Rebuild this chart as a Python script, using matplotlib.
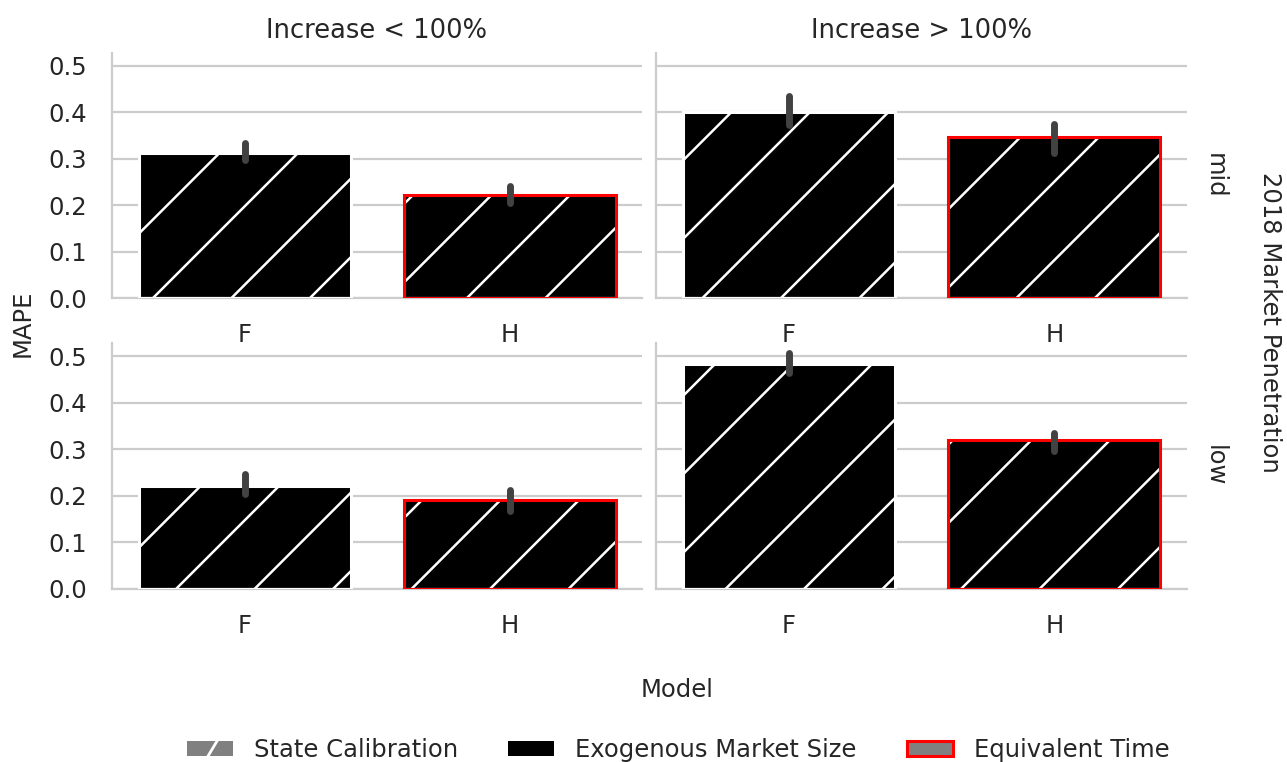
import numpy as np
import matplotlib
matplotlib.use("Agg")
import matplotlib.pyplot as plt
from matplotlib.patches import Rectangle, Patch
from matplotlib.lines import Line2D
from matplotlib.transforms import IdentityTransform
from matplotlib.legend_handler import HandlerPatch

# ---- data -------------------------------------------------------------
rows = ["mid", "low"]
cols = ["Increase < 100%", "Increase > 100%"]
models = ["F", "H"]

# mean MAPE per [row][col][model]
mape_mid = [[0.313, 0.223], [0.401, 0.347]]
mape_low = [[0.221, 0.192], [0.482, 0.319]]
# confidence interval bounds
ci_lo_mid = [[0.297, 0.205], [0.373, 0.313]]
ci_hi_mid = [[0.334, 0.241], [0.435, 0.376]]
ci_lo_low = [[0.203, 0.168], [0.464, 0.297]]
ci_hi_low = [[0.246, 0.213], [0.507, 0.335]]

yticks = [0.0, 0.1, 0.2, 0.3, 0.4, 0.5]
legend_labels = ["State Calibration", "Exogenous Market Size", "Equivalent Time"]

mape = {"mid": mape_mid, "low": mape_low}
ci_lo = {"mid": ci_lo_mid, "low": ci_lo_low}
ci_hi = {"mid": ci_hi_mid, "low": ci_hi_low}

# ---- style ------------------------------------------------------------
W, H, DPI = 1287, 762, 100
TXT = "#262626"
GRID = "#cccccc"
ERR = "#424242"
FS = 17.5
HATCH_STEP = 78.5   # pixel spacing of the diagonal hatch
HATCH_OFF = 3.0

plt.rcParams["font.family"] = ["DejaVu Sans"]
fig = plt.figure(figsize=(W / DPI, H / DPI), dpi=DPI)

col_x = [(112, 530), (656, 531)]
row_y = [(53, 298), (343, 589)]


def add_hatch(ax, patch):
    """Draw white 45-degree lines clipped to a bar."""
    bb = patch.get_window_extent()
    x0, y0, x1, y1 = bb.x0, bb.y0, bb.x1, bb.y1
    cmin, cmax = x0 - y1, x1 - y0
    k0 = np.floor((cmin - HATCH_OFF) / HATCH_STEP)
    k1 = np.ceil((cmax - HATCH_OFF) / HATCH_STEP)
    for k in np.arange(k0, k1 + 1):
        c = HATCH_OFF + k * HATCH_STEP
        ln = Line2D([x0 - 5, x1 + 5], [x0 - 5 - c, x1 + 5 - c],
                    color="white", lw=1.8, transform=IdentityTransform(),
                    zorder=2.5)
        ax.add_line(ln)
        ln.set_clip_path(patch)


axes = {}
for ri, row in enumerate(rows):
    for ci, col in enumerate(cols):
        xl, xw = col_x[ci]
        yt, yb = row_y[ri]
        ax = fig.add_axes([xl / W, (H - yb) / H, xw / W, (yb - yt) / H])
        axes[(ri, ci)] = ax
        ax.set_xlim(-0.5, 1.5)
        ax.set_ylim(0, 0.528)
        ax.set_axisbelow(True)
        ax.yaxis.grid(True, color=GRID, lw=1.6)
        for s in ["top", "right"]:
            ax.spines[s].set_visible(False)
        for s in ["left", "bottom"]:
            ax.spines[s].set_color(GRID)
            ax.spines[s].set_linewidth(1.6)
        ax.set_yticks(yticks)
        ax.set_xticks(range(len(models)))
        ax.set_xticklabels(models)
        ax.tick_params(axis="both", length=0, pad=18, labelsize=FS,
                       labelcolor=TXT)
        if ci == 0:
            ax.set_yticklabels([f"{t:.1f}" for t in yticks])
        else:
            ax.set_yticklabels([])
        if ri == 0:
            ax.set_title(col, fontsize=18.5, color=TXT, pad=11)
        if ci == 1:
            ax.text(1 + 16 / xw, 0.5, row, rotation=-90, ha="left",
                    va="center", transform=ax.transAxes, fontsize=FS,
                    color=TXT)

        vals = mape[row][ci]
        x = np.arange(len(models))
        faces = ax.bar(x, vals, width=0.8, color="black", edgecolor="none",
                       zorder=2)
        # outlines: white for F, red for H
        ax.bar(x, vals, width=0.8, fill=False,
               edgecolor=["white", "red"], linewidth=[2.2, 2.2], zorder=3)
        axes[(ri, ci)]._faces = faces
        for xi, lo, hi in zip(x, ci_lo[row][ci], ci_hi[row][ci]):
            ax.plot([xi, xi], [lo, hi], color=ERR, lw=5,
                    solid_capstyle="round", zorder=4)

# hatching needs final pixel positions of the bars
fig.canvas.draw()
for key, ax in axes.items():
    for p in ax._faces:
        add_hatch(ax, p)

fig.text(23 / W, 1 - 323 / H, "MAPE", rotation=90, ha="center", va="center",
         fontsize=FS, color=TXT)
fig.text(677 / W, 1 - 690 / H, "Model", ha="center", va="center",
         fontsize=FS, color=TXT)
fig.text(1270 / W, 1 - 322 / H, "2018 Market Penetration", rotation=-90,
         ha="center", va="center", fontsize=FS, color=TXT)


class SlashHandler(HandlerPatch):
    def create_artists(self, legend, orig_handle, xdescent, ydescent,
                       width, height, fontsize, trans):
        rect = Rectangle((-xdescent, -ydescent), width, height,
                         facecolor="#808080", edgecolor="none",
                         transform=trans)
        ln = Line2D([-xdescent + 0.46 * width, -xdescent + 0.66 * width],
                    [-ydescent, -ydescent + height], color="white", lw=2,
                    transform=trans)
        return [rect, ln]


h_state = Patch(facecolor="#808080")
h_exo = Patch(facecolor="black", edgecolor="none")
h_eq = Patch(facecolor="#808080", edgecolor="red", linewidth=2.2)
fig.legend([h_state, h_exo, h_eq], legend_labels, ncol=3, frameon=False,
           loc="center", bbox_to_anchor=(678 / W, 1 - 750 / H),
           fontsize=FS, labelcolor=TXT, handlelength=1.9, handleheight=0.6,
           handletextpad=0.86, columnspacing=2.06,
           handler_map={h_state: SlashHandler()})

fig.savefig("out.png", dpi=DPI)
